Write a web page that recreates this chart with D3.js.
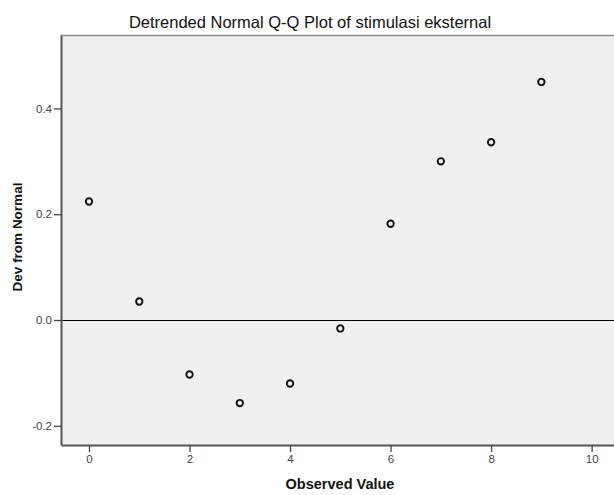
<!DOCTYPE html>
<html>
<head>
<meta charset="utf-8">
<script src="https://cdn.jsdelivr.net/npm/d3@7"></script>
<style>
  html, body { margin: 0; padding: 0; background: #ffffff; }
  svg { display: block; }
</style>
</head>
<body>
<svg id="chart" width="614" height="495"></svg>
<script>
const observedValues = [0, 1, 2, 3, 4, 5, 6, 7, 8, 9];
const devFromNormal = [0.224, 0.035, -0.103, -0.157, -0.120, -0.016, 0.182, 0.300, 0.336, 0.450];
const xTicks = [0, 2, 4, 6, 8, 10];
const yTicks = [-0.2, 0.0, 0.2, 0.4];
const titleText = "Detrended Normal Q-Q Plot of stimulasi eksternal";
const xLabel = "Observed Value";
const yLabel = "Dev from Normal";

const svg = d3.select("#chart");
const plot = { left: 61, right: 615, top: 35, bottom: 445 };

const x = d3.scaleLinear().domain([-0.557, 10.465]).range([plot.left, plot.right]);
const y = d3.scaleLinear().domain([-0.2363, 0.5388]).range([plot.bottom, plot.top]);

// plot background
svg.append("rect")
  .attr("x", plot.left).attr("y", plot.top)
  .attr("width", plot.right - plot.left).attr("height", plot.bottom - plot.top)
  .attr("fill", "#f0f0f0");

// top border
svg.append("line")
  .attr("x1", plot.left).attr("x2", plot.right)
  .attr("y1", plot.top + 0.5).attr("y2", plot.top + 0.5)
  .attr("stroke", "#8a8a8a").attr("stroke-width", 1.5);

// zero reference line
svg.append("line")
  .attr("x1", plot.left).attr("x2", plot.right)
  .attr("y1", Math.round(y(0)) + 0.5).attr("y2", Math.round(y(0)) + 0.5)
  .attr("stroke", "#000").attr("stroke-width", 1.2);

// axes
const fmtY = d => d3.format(".1f")(d).replace("\u2212", "-");
const xAxis = d3.axisBottom(x).tickValues(xTicks).tickFormat(d3.format("d"))
  .tickSizeInner(7).tickSizeOuter(0).tickPadding(3);
const yAxis = d3.axisLeft(y).tickValues(yTicks).tickFormat(fmtY)
  .tickSizeInner(7).tickSizeOuter(0).tickPadding(2);

const gx = svg.append("g").attr("transform", `translate(0,${plot.bottom})`).call(xAxis);
const gy = svg.append("g").attr("transform", `translate(${plot.left},0)`).call(yAxis);

[gx, gy].forEach(g => {
  g.select(".domain").attr("stroke", "#555").attr("stroke-width", 2);
  g.selectAll(".tick line").attr("stroke", "#444").attr("stroke-width", 1.3);
  g.selectAll(".tick text")
    .attr("fill", "#444")
    .style("font-family", "'Liberation Sans', Arial, sans-serif")
    .style("font-size", "11.5px");
});

// points
svg.append("g").selectAll("circle")
  .data(observedValues.map((v, i) => ({ v, d: devFromNormal[i] })))
  .join("circle")
  .attr("cx", p => x(p.v))
  .attr("cy", p => y(p.d))
  .attr("r", 3.2)
  .attr("fill", "none")
  .attr("stroke", "#111")
  .attr("stroke-width", 1.9);

// title
svg.append("text")
  .attr("x", 310).attr("y", 28)
  .attr("text-anchor", "middle")
  .style("font-family", "'Liberation Sans', Arial, sans-serif")
  .style("font-size", "16.5px")
  .attr("fill", "#111")
  .text(titleText);

// x label
svg.append("text")
  .attr("x", 340).attr("y", 489)
  .attr("text-anchor", "middle")
  .style("font-family", "'Liberation Sans', Arial, sans-serif")
  .style("font-size", "14.5px")
  .style("font-weight", "bold")
  .attr("fill", "#111")
  .text(xLabel);

// y label
svg.append("text")
  .attr("transform", `translate(22,${(plot.top + plot.bottom) / 2 - 3}) rotate(-90)`)
  .attr("text-anchor", "middle")
  .style("font-family", "'Liberation Sans', Arial, sans-serif")
  .style("font-size", "13.5px")
  .style("font-weight", "bold")
  .attr("fill", "#111")
  .text(yLabel);
</script>
</body>
</html>
